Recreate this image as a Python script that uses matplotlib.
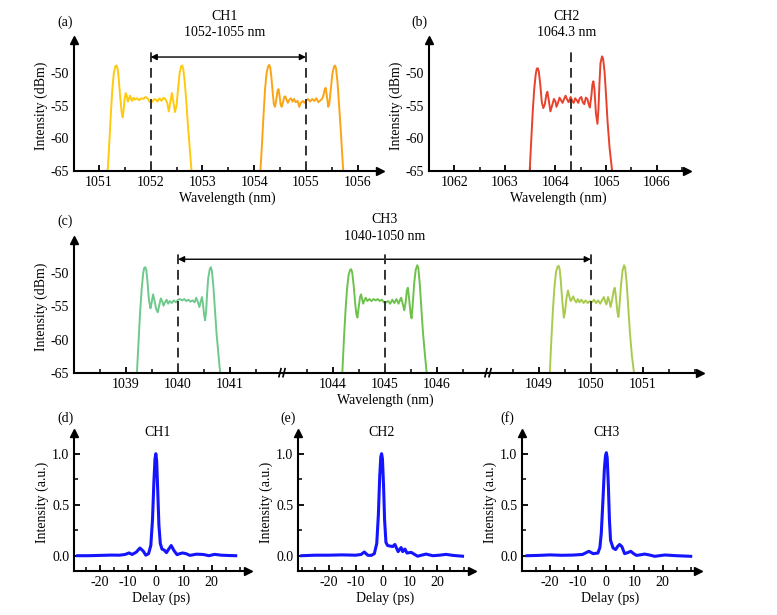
import matplotlib
matplotlib.use("Agg")
import matplotlib.pyplot as plt
from matplotlib.ticker import MultipleLocator

plt.rcParams['font.family'] = ['Liberation Serif', 'DejaVu Serif']
plt.rcParams['font.size'] = 10
plt.rcParams['axes.unicode_minus'] = False
plt.rcParams['axes.linewidth'] = 1.5

# ---- spectra (wavelength nm, intensity dBm) ----
# (a) CH1, two spectra
a1_wl = [1051.17, 1051.20, 1051.23, 1051.26, 1051.29, 1051.32, 1051.34, 1051.36, 1051.38, 1051.41,
         1051.44, 1051.46, 1051.48, 1051.50, 1051.52, 1051.54, 1051.56, 1051.58, 1051.60, 1051.62,
         1051.64, 1051.67, 1051.70, 1051.74, 1051.78, 1051.82, 1051.86, 1051.90, 1051.94, 1051.98,
         1052.01, 1052.05, 1052.09, 1052.13, 1052.17, 1052.21, 1052.25, 1052.29, 1052.32, 1052.35,
         1052.38, 1052.41, 1052.44, 1052.47, 1052.50, 1052.53, 1052.56, 1052.59, 1052.61, 1052.63,
         1052.66, 1052.69, 1052.72, 1052.76, 1052.79]
a1_db = [-65.0, -61.0, -56.5, -52.5, -50.0, -49.0, -48.9, -49.3, -50.6, -53.5,
         -56.0, -56.8, -55.6, -53.8, -53.1, -53.6, -54.4, -54.0, -53.5, -53.9,
         -54.3, -53.8, -54.1, -53.9, -54.2, -53.9, -54.0, -53.7, -53.9, -54.4,
         -54.6, -54.2, -54.0, -54.4, -53.9, -54.3, -53.8, -54.1, -54.6, -55.9,
         -54.5, -53.1, -54.5, -56.0, -55.0, -52.5, -50.0, -49.0, -48.9, -49.4,
         -51.5, -54.5, -58.0, -62.0, -65.0]

a2_wl = [1054.12, 1054.15, 1054.18, 1054.21, 1054.24, 1054.27, 1054.29, 1054.31, 1054.33, 1054.36,
         1054.38, 1054.40, 1054.42, 1054.45, 1054.47, 1054.49, 1054.51, 1054.53, 1054.56, 1054.58,
         1054.60, 1054.63, 1054.65, 1054.68, 1054.71, 1054.74, 1054.77, 1054.80, 1054.84, 1054.87,
         1054.90, 1054.94, 1054.97, 1055.00, 1055.04, 1055.08, 1055.12, 1055.16, 1055.20, 1055.24,
         1055.28, 1055.31, 1055.34, 1055.36, 1055.38, 1055.40, 1055.43, 1055.45, 1055.48, 1055.51,
         1055.54, 1055.56, 1055.58, 1055.61, 1055.64, 1055.67, 1055.70, 1055.72]
a2_db = [-65.0, -61.0, -56.5, -52.5, -50.0, -49.0, -48.8, -49.2, -50.5, -53.2,
         -54.8, -55.2, -54.5, -52.8, -52.5, -53.5, -54.8, -55.2, -54.4, -53.7,
         -53.6, -54.2, -54.6, -54.1, -53.9, -54.4, -54.0, -54.5, -54.3, -55.2,
         -54.6, -54.3, -54.6, -54.3, -54.0, -54.4, -54.0, -54.3, -53.9, -54.5,
         -54.2, -54.0, -53.4, -52.6, -52.3, -53.3, -55.2, -54.8, -52.5, -50.2,
         -49.1, -48.9, -49.3, -51.5, -55.0, -58.5, -62.5, -65.0]

# (b) CH2
b_wl = [1063.49, 1063.52, 1063.55, 1063.58, 1063.61, 1063.63, 1063.65, 1063.67, 1063.70, 1063.73,
        1063.76, 1063.79, 1063.82, 1063.84, 1063.87, 1063.90, 1063.93, 1063.97, 1064.00, 1064.02,
        1064.05, 1064.08, 1064.11, 1064.14, 1064.17, 1064.20, 1064.23, 1064.26, 1064.30, 1064.33,
        1064.36, 1064.39, 1064.42, 1064.45, 1064.48, 1064.51, 1064.54, 1064.57, 1064.60, 1064.63,
        1064.66, 1064.68, 1064.71, 1064.73, 1064.75, 1064.77, 1064.80, 1064.83, 1064.85, 1064.87,
        1064.89, 1064.92, 1064.94, 1064.97, 1065.00, 1065.03, 1065.07, 1065.12]
b_db = [-65.0, -60.5, -56.0, -52.5, -50.2, -49.4, -49.3, -49.8, -51.8, -54.5,
        -55.4, -54.8, -53.3, -52.9, -54.3, -55.9, -55.1, -54.0, -54.4, -55.2,
        -54.6, -53.8, -54.2, -54.6, -54.0, -53.5, -54.1, -54.5, -53.7, -54.3,
        -54.6, -53.9, -54.2, -54.6, -53.9, -53.7, -54.5, -54.8, -53.8, -54.0,
        -54.9, -55.3, -53.5, -51.8, -51.3, -52.5, -56.2, -57.8, -55.5, -51.5,
        -48.5, -47.5, -47.8, -49.8, -53.5, -57.5, -61.5, -65.0]

# (c) CH3, three spectra
c1_wl = [1039.21, 1039.24, 1039.27, 1039.30, 1039.33, 1039.35, 1039.37, 1039.39, 1039.41, 1039.44,
         1039.47, 1039.49, 1039.52, 1039.55, 1039.58, 1039.61, 1039.64, 1039.67, 1039.70, 1039.72,
         1039.75, 1039.78, 1039.81, 1039.84, 1039.88, 1039.92, 1039.96, 1040.00, 1040.04, 1040.08,
         1040.12, 1040.16, 1040.20, 1040.24, 1040.28, 1040.32, 1040.35, 1040.38, 1040.41, 1040.44,
         1040.46, 1040.48, 1040.50, 1040.52, 1040.54, 1040.56, 1040.58, 1040.61, 1040.63, 1040.65,
         1040.68, 1040.71, 1040.74, 1040.78, 1040.81]
c1_db = [-65.0, -60.5, -56.0, -52.5, -50.0, -49.2, -49.1, -49.5, -51.0, -54.0,
         -55.3, -54.6, -53.2, -54.2, -55.4, -55.9, -54.8, -53.8, -54.3, -54.9,
         -54.4, -54.0, -54.6, -54.2, -54.5, -54.1, -54.4, -54.0, -53.9, -54.1,
         -53.9, -54.2, -54.0, -54.3, -54.1, -54.4, -53.7, -54.3, -55.1, -54.2,
         -53.6, -54.6, -56.2, -57.1, -55.8, -53.0, -50.8, -49.4, -49.1, -49.6,
         -52.0, -55.5, -59.0, -62.5, -65.0]

c2_wl = [1044.18, 1044.21, 1044.24, 1044.27, 1044.30, 1044.33, 1044.35, 1044.37, 1044.40, 1044.43,
         1044.45, 1044.47, 1044.49, 1044.52, 1044.54, 1044.56, 1044.58, 1044.61, 1044.63, 1044.66,
         1044.70, 1044.74, 1044.78, 1044.82, 1044.86, 1044.90, 1044.94, 1044.98, 1045.02, 1045.06,
         1045.10, 1045.14, 1045.18, 1045.22, 1045.26, 1045.29, 1045.31, 1045.34, 1045.37, 1045.40,
         1045.42, 1045.44, 1045.46, 1045.49, 1045.51, 1045.53, 1045.56, 1045.59, 1045.62, 1045.64,
         1045.67, 1045.70, 1045.73, 1045.77, 1045.80]
c2_db = [-65.0, -60.0, -55.8, -52.4, -50.3, -49.5, -49.4, -49.9, -52.0, -54.8,
         -56.2, -56.7, -55.4, -53.6, -53.2, -53.9, -54.6, -54.0, -53.7, -54.2,
         -53.9, -54.2, -53.9, -54.1, -53.9, -54.2, -54.0, -54.4, -54.4, -54.2,
         -54.6, -54.0, -54.5, -53.9, -54.6, -54.0, -53.7, -54.6, -55.6, -54.2,
         -52.6, -52.2, -53.6, -56.0, -56.8, -55.0, -51.6, -49.5, -48.8, -49.2,
         -51.8, -55.5, -59.0, -62.5, -65.0]

c3_wl = [1049.21, 1049.24, 1049.27, 1049.30, 1049.33, 1049.36, 1049.38, 1049.40, 1049.42, 1049.45,
         1049.48, 1049.50, 1049.53, 1049.56, 1049.58, 1049.61, 1049.63, 1049.66, 1049.69, 1049.72,
         1049.75, 1049.78, 1049.82, 1049.86, 1049.90, 1049.94, 1049.98, 1050.00, 1050.03, 1050.06,
         1050.10, 1050.14, 1050.18, 1050.22, 1050.25, 1050.28, 1050.30, 1050.33, 1050.36, 1050.38,
         1050.41, 1050.44, 1050.46, 1050.48, 1050.51, 1050.53, 1050.55, 1050.58, 1050.61, 1050.64,
         1050.66, 1050.69, 1050.72, 1050.75, 1050.79, 1050.83]
c3_db = [-65.0, -60.0, -55.5, -52.0, -49.8, -49.0, -48.9, -49.4, -51.0, -54.2,
         -56.7, -56.0, -53.8, -52.6, -53.3, -54.2, -54.0, -53.5, -54.1, -54.4,
         -53.9, -54.4, -54.0, -54.5, -54.1, -54.5, -54.2, -54.5, -54.3, -54.0,
         -54.5, -54.1, -54.6, -54.0, -53.6, -54.4, -54.7, -53.6, -54.3, -55.1,
         -54.0, -52.6, -52.2, -53.4, -55.8, -56.6, -55.0, -51.8, -49.6, -48.8,
         -49.2, -51.6, -55.2, -58.8, -62.5, -65.0]

# ---- autocorrelation traces (delay ps, intensity a.u.) ----
d_t = [-28, -24, -20, -16, -13, -11, -9.6, -8.5, -7, -5.7, -4.5, -3.6, -2.6, -1.8, -1.2, -0.7, -0.3, 0,
       0.3, 0.7, 1.1, 1.6, 2.2, 3.0, 3.8, 4.5, 5.5, 6.5, 7.6, 8.6, 9.6, 10.8, 12.2, 14.5, 17, 19, 21,
       23.5, 26, 28.6]
d_i = [0.0, 0.0, 0.003, 0.006, 0.005, 0.012, 0.027, 0.012, 0.035, 0.075, 0.045, 0.005, 0.02, 0.1, 0.35,
       0.72, 0.95, 1.0, 0.93, 0.62, 0.3, 0.12, 0.065, 0.055, 0.03, 0.06, 0.1, 0.05, 0.01, 0.02, 0.027,
       0.02, 0.003, 0.015, 0.012, 0.0, 0.013, 0.005, 0.002, 0.0]

e_t = [-29.9, -25, -20, -15, -10, -8, -6.8, -5.5, -4.2, -3.1, -2.2, -1.6, -1.1, -0.7, -0.4, -0.1, 0.3,
       0.7, 1.2, 1.8, 2.6, 3.7, 4.5, 5.7, 6.8, 7.4, 8.2, 9.0, 10.5, 12.9, 16, 18.5, 21, 23.4, 26, 29.5]
e_i = [0.0, 0.005, 0.005, 0.008, 0.005, 0.012, 0.036, 0.004, 0.003, 0.02, 0.12, 0.4, 0.78, 0.97, 1.0,
       0.95, 0.7, 0.35, 0.13, 0.1, 0.095, 0.09, 0.11, 0.04, 0.08, 0.04, 0.065, 0.026, 0.033, -0.005,
       0.016, 0.0, 0.005, 0.013, 0.003, -0.005]

f_t = [-28.2, -24, -20, -16, -12, -8.5, -6.2, -4.7, -3.0, -2.3, -1.8, -1.2, -0.7, -0.3, 0, 0.3, 0.7,
       1.1, 1.5, 2.4, 3.3, 4.0, 4.7, 5.5, 6.5, 7.6, 8.7, 9.7, 10.7, 12, 13.6, 15.5, 17.2, 20.8, 24.9, 30]
f_i = [0.0, 0.003, 0.008, 0.004, 0.006, 0.012, 0.043, 0.02, 0.026, 0.08, 0.22, 0.55, 0.85, 0.98, 1.01,
       0.96, 0.7, 0.35, 0.15, 0.075, 0.06, 0.09, 0.11, 0.09, 0.02, 0.03, 0.043, 0.02, 0.003, 0.008,
       0.016, 0.006, -0.006, 0.007, 0.0, -0.006]

# channel markers and panel (c) tick labels
ch1_marks = [1052, 1055]
ch2_marks = [1064.3]
ch3_marks = [1040, 1045, 1050]
c_ticks = [[1039, 1040, 1041], [1044, 1045, 1046], [1049, 1050, 1051]]

W, H = 777, 615
fig = plt.figure(figsize=(W / 100, H / 100), dpi=100)


def box(left, top, right, bottom):
    # pixel box -> figure fraction
    return [left / W, 1 - bottom / H, (right - left) / W, (bottom - top) / H]


def axis_arrows(ax, xarrow=True, yarrow=True):
    if xarrow:
        ax.plot(1, 0, '>', color='k', ms=6, transform=ax.transAxes, clip_on=False)
    if yarrow:
        ax.plot(0, 1, '^', color='k', ms=6, transform=ax.transAxes, clip_on=False)


def base_style(ax):
    ax.spines['top'].set_visible(False)
    ax.spines['right'].set_visible(False)
    ax.tick_params(which='major', direction='in', length=4, width=1.3, pad=3.5)
    ax.tick_params(which='minor', direction='in', length=3, width=1.1)


def spec_style(ax):
    base_style(ax)
    ax.set_ylim(-65, -45)
    ax.set_yticks([-65, -60, -55, -50])
    ax.tick_params(axis='y', length=0)
    ax.xaxis.set_major_locator(MultipleLocator(1))
    ax.xaxis.set_minor_locator(MultipleLocator(0.5))


dash = dict(color='#333333', ls=(0, (5, 3)), lw=1.4)
arrow = dict(arrowstyle='<|-|>', color='k', lw=1.0, mutation_scale=9, shrinkA=0, shrinkB=0)

# ---------------- (a) ----------------
ax_a = fig.add_axes(box(74, 40, 380, 171))
spec_style(ax_a)
ax_a.plot(a1_wl, a1_db, color='#FFC90E', lw=1.4)
ax_a.plot(a2_wl, a2_db, color='#FBA516', lw=1.4)
ax_a.set_xlim(1050.52, 1056.43)
for m in ch1_marks:
    ax_a.plot([m, m], [-65, -46.0], **dash)
ax_a.annotate('', xy=(ch1_marks[1], -47.6), xytext=(ch1_marks[0], -47.6), arrowprops=arrow)
ax_a.set_xlabel('Wavelength (nm)', labelpad=2)
ax_a.set_ylabel('Intensity (dBm)', labelpad=2)
axis_arrows(ax_a)

# ---------------- (b) ----------------
ax_b = fig.add_axes(box(429, 40, 687, 171))
spec_style(ax_b)
ax_b.plot(b_wl, b_db, color='#E8412C', lw=1.4)
ax_b.set_xlim(1061.5, 1066.6)
ax_b.plot([ch2_marks[0]] * 2, [-65, -46.5], **dash)
ax_b.set_xlabel('Wavelength (nm)', labelpad=2)
ax_b.set_ylabel('Intensity (dBm)', labelpad=2)
axis_arrows(ax_b)

# ---------------- (c) broken axis ----------------
c_segs = [(74, 281, 1038.0, 1041.98), (283, 487, 1043.04, 1046.96), (489, 700, 1048.04, 1052.1)]
c_data = [(c1_wl, c1_db, '#6FC98D'), (c2_wl, c2_db, '#6DC24B'), (c3_wl, c3_db, '#A8CB4E')]
c_axes = []
for i, ((l, r, x0, x1), (wl, db, col)) in enumerate(zip(c_segs, c_data)):
    ax = fig.add_axes(box(l, 240, r, 372.7))
    spec_style(ax)
    ax.plot(wl, db, color=col, lw=1.4)
    ax.set_xlim(x0, x1)
    ax.set_xticks(c_ticks[i])
    ax.plot([ch3_marks[i]] * 2, [-65, -46.4], **dash)
    ax.patch.set_alpha(0)
    if i > 0:
        ax.spines['left'].set_visible(False)
        ax.tick_params(axis='y', left=False, labelleft=False)
    # break marks
    if i < 2:
        ax.plot([0.99, 1.0], [-0.03, 0.03], color='k', lw=1.2, transform=ax.transAxes, clip_on=False)
    if i > 0:
        ax.plot([0.0, 0.01], [-0.03, 0.03], color='k', lw=1.2, transform=ax.transAxes, clip_on=False)
    c_axes.append(ax)
c_axes[0].set_ylabel('Intensity (dBm)', labelpad=2)
c_axes[1].set_xlabel('Wavelength (nm)', labelpad=2)
axis_arrows(c_axes[0], xarrow=False)
axis_arrows(c_axes[2], yarrow=False)
c_axes[0].annotate('', xy=(ch3_marks[2], -47.9), xycoords=c_axes[2].transData,
                   xytext=(ch3_marks[0], -47.9), textcoords=c_axes[0].transData, arrowprops=arrow)

# ---------------- (d)(e)(f) ----------------
ac = [(74, 248, -29.3, 33.0, d_t, d_i),
      (298, 472, -31.3, 33.0, e_t, e_i),
      (522, 698, -30.0, 32.6, f_t, f_i)]
for l, r, x0, x1, t, y in ac:
    ax = fig.add_axes(box(l, 433.3, r, 571))
    base_style(ax)
    ax.plot(t, y, color='#1414FF', lw=2.2)
    ax.set_xlim(x0, x1)
    ax.set_ylim(-0.15, 1.2)
    ax.set_xticks([-20, -10, 0, 10, 20])
    ax.xaxis.set_minor_locator(MultipleLocator(5))
    ax.set_yticks([0.0, 0.5, 1.0])
    ax.set_yticklabels(['0.0', '0.5', '1.0'])
    ax.yaxis.set_minor_locator(MultipleLocator(0.25))
    ax.set_xlabel('Delay (ps)', labelpad=2)
    ax.set_ylabel('Intensity (a.u.)', labelpad=2)
    axis_arrows(ax)


# ---------------- text ----------------
def ftext(x, y, s):
    fig.text(x / W, 1 - y / H, s, ha='center', va='center', fontsize=10)


ftext(65, 22, '(a)')
ftext(225, 16, 'CH1')
ftext(225, 33, '1052-1055 nm')
ftext(419, 22, '(b)')
ftext(567, 16, 'CH2')
ftext(567, 33, '1064.3 nm')
ftext(65, 221, '(c)')
ftext(385, 220, 'CH3')
ftext(385, 237, '1040-1050 nm')
ftext(65, 418, '(d)')
ftext(158, 433, 'CH1')
ftext(288, 418, '(e)')
ftext(382, 433, 'CH2')
ftext(507, 418, '(f)')
ftext(607, 433, 'CH3')

plt.savefig('out.png', dpi=100)
